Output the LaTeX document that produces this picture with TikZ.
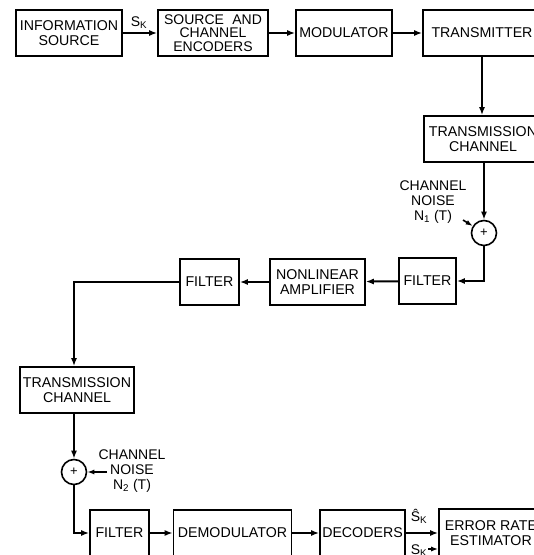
\documentclass[tikz,border=0pt]{standalone}
\usepackage{fontspec}
\setmainfont{Liberation Sans}
\usetikzlibrary{arrows.meta}
\begin{document}
\begin{tikzpicture}[x=1pt,y=-1pt,
  blk/.style={draw, line width=1.6pt, inner sep=0pt, align=center,
    font=\fontsize{14.2}{15}\selectfont},
  sumc/.style={draw, circle, line width=1.6pt, minimum size=25pt, inner sep=0pt,
    font=\fontsize{13}{13}\selectfont},
  lbl/.style={inner sep=0pt, align=center, font=\fontsize{14}{15}\selectfont},
  arr/.style={line width=2pt, -{Latex[length=8pt,width=6pt]}},
  narr/.style={line width=1.6pt, -{Latex[length=7pt,width=5pt]}}]
\useasboundingbox (0,0) rectangle (534,555);
\clip (0,0) rectangle (534,555);
% top row
\node[blk, minimum width=106pt, minimum height=46pt] (info) at (69,33) {INFORMATION\\SOURCE};
\node[blk, minimum width=110pt, minimum height=46pt, font=\fontsize{14}{13.5}\selectfont] (enc) at (213,33) {SOURCE\hspace{0.6em}AND\\CHANNEL\\ENCODERS};
\node[blk, minimum width=96pt, minimum height=46pt] (mod) at (344,33) {MODULATOR};
\node[blk, minimum width=118pt, minimum height=46pt] (trans) at (482,33) {TRANSMITTER};
\node[lbl] (sk1) at (139,23) {S\textsubscript{K}};
% channel 1
\node[blk, minimum width=118pt, minimum height=46pt] (ch1) at (483,139) {TRANSMISSION\\CHANNEL};
\node[sumc] (c1) at (484,233) {+};
\node[lbl] (nz1) at (433,202) {CHANNEL\\NOISE\\N\textsubscript{1} (T)};
\coordinate (n1s) at (463,220);
% middle row
\node[blk, minimum width=57pt, minimum height=46pt] (rf) at (427.5,281) {FILTER};
\node[blk, minimum width=95pt, minimum height=46pt] (amp) at (317.5,282) {NONLINEAR\\AMPLIFIER};
\node[blk, minimum width=59pt, minimum height=46pt] (lf) at (209.5,282) {FILTER};
% channel 2
\node[blk, minimum width=114pt, minimum height=46pt] (ch2) at (77,390) {TRANSMISSION\\CHANNEL};
\node[sumc] (c2) at (74,472) {+};
\node[lbl] (nz2) at (132,471) {CHANNEL\\NOISE\\N\textsubscript{2} (T)};
\coordinate (n2s) at (107,472);
% bottom row
\node[blk, minimum width=59pt, minimum height=46pt] (bf) at (119.5,533) {FILTER};
\node[blk, minimum width=118pt, minimum height=46pt] (dem) at (232.5,533) {DEMODULATOR};
\node[blk, minimum width=85pt, minimum height=46pt] (dec) at (362.5,533) {DECODERS};
\node[blk, minimum width=104pt, minimum height=48pt] (est) at (491,533) {ERROR RATE\\ESTIMATOR};
\node[lbl] (skh) at (419,516) {Ŝ\textsubscript{K}};
\node[lbl] (sk2) at (419,551) {S\textsubscript{K}};
\coordinate (sk2s) at (428,549);
% connectors
\draw[arr] (info) -- (enc);
\draw[arr] (enc) -- (mod);
\draw[arr] (mod) -- (trans);
\draw[arr] (trans.south) -- (trans.south |- ch1.north);
\draw[arr] (ch1.south -| c1) -- (c1);
\draw[narr] (n1s) -- (c1);
\draw[arr] (c1.south) |- (rf.east);
\draw[arr] (rf) -- (amp);
\draw[arr] (amp) -- (lf);
\draw[arr] (lf.west) -| (c2 |- ch2.north);
\draw[arr] (c2 |- ch2.south) -- (c2);
\draw[narr] (n2s) -- (c2);
\draw[arr] (c2.south) |- (bf.west);
\draw[arr] (bf) -- (dem);
\draw[arr] (dem) -- (dec);
\draw[arr] (dec) -- (est);
\draw[narr] (sk2s) -- (est.west |- sk2s);
\end{tikzpicture}
\end{document}
